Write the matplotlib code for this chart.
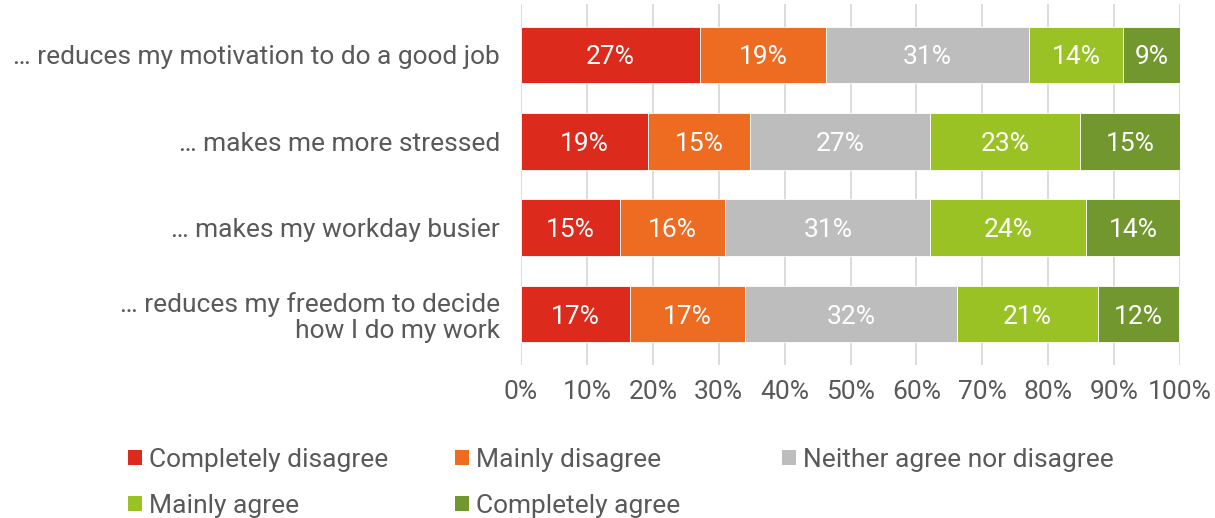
import matplotlib
matplotlib.use("Agg")
import matplotlib.pyplot as plt
from matplotlib.patches import Rectangle

plt.rcParams['font.family'] = ['Roboto', 'DejaVu Sans']

# Survey statements (top to bottom) and answer shares in percent
statements = [
    "… reduces my motivation to do a good job",
    "… makes me more stressed",
    "… makes my workday busier",
    "… reduces my freedom to decide\nhow I do my work",
]
answers = [
    "Completely disagree",
    "Mainly disagree",
    "Neither agree nor disagree",
    "Mainly agree",
    "Completely agree",
]
completely_disagree = [27.2, 19.3, 15.0, 16.6]
mainly_disagree = [19.1, 15.4, 16.0, 17.4]
neither = [30.8, 27.4, 31.1, 32.1]
mainly_agree = [14.3, 22.7, 23.6, 21.4]
completely_agree = [8.6, 15.2, 14.3, 12.4]
x_ticks = [0, 10, 20, 30, 40, 50, 60, 70, 80, 90, 100]

series = [completely_disagree, mainly_disagree, neither, mainly_agree, completely_agree]
colors = ["#DC2B1C", "#EE6B22", "#BDBDBD", "#9AC225", "#72972F"]
text_grey = "#595959"
fs = 19

W, H = 1215, 518
fig = plt.figure(figsize=(W / 100, H / 100), dpi=100)
ax = fig.add_axes([521 / W, 1 - 365 / H, 659 / W, 361 / H])

ypos = list(range(len(statements)))
left = [0.0] * len(statements)
for vals, col, name in zip(series, colors, answers):
    bars = ax.barh(ypos, vals, left=left, height=0.655, color=col,
                   edgecolor="white", linewidth=0.6, label=name, zorder=2)
    for b, v in zip(bars, vals):
        ax.text(b.get_x() + b.get_width() / 2, b.get_y() + b.get_height() / 2,
                f"{v:.0f}%", ha="center", va="center_baseline", color="white",
                fontsize=fs, zorder=3)
    left = [l + v for l, v in zip(left, vals)]

ax.set_xlim(0, 100)
ax.set_ylim(len(statements) - 1 + 0.59, -0.59)
ax.set_xticks(x_ticks)
ax.set_xticklabels([f"{t}%" for t in x_ticks], fontsize=fs, color=text_grey)
ax.set_yticks(ypos)
ax.set_yticklabels(statements, fontsize=fs, color=text_grey, linespacing=1.12)
ax.tick_params(axis="both", length=0)
ax.tick_params(axis="x", pad=11)
ax.tick_params(axis="y", pad=15)
ax.grid(axis="x", color="#D9D9D9", linewidth=1.3, zorder=0)
for s in ax.spines.values():
    s.set_visible(False)

# Legend on a fixed grid: three entries on the first row, two on the second
col_x = [128, 455, 782]
row_y = [457, 503]
for i, (name, col) in enumerate(zip(answers, colors)):
    r, c = divmod(i, 3)
    x0, yc = col_x[c], row_y[r]
    fig.add_artist(Rectangle((x0 / W, 1 - (yc + 8) / H), 14 / W, 15 / H,
                             transform=fig.transFigure, facecolor=col,
                             edgecolor="none"))
    fig.text((x0 + 21) / W, 1 - yc / H, name, ha="left", va="center_baseline",
             fontsize=fs, color=text_grey)

fig.savefig("out.png", dpi=100, facecolor="white")
